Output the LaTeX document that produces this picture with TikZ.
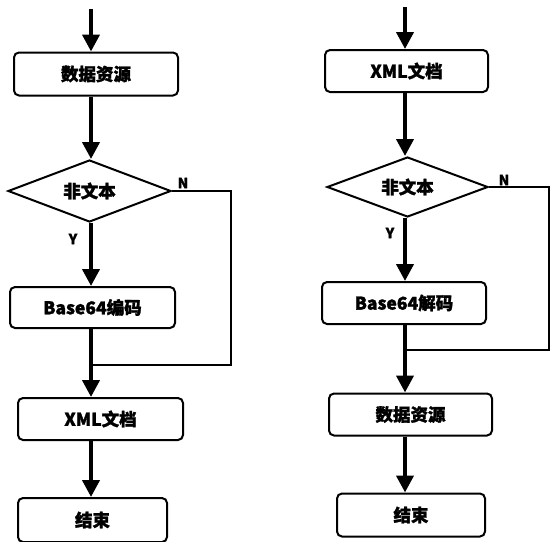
\documentclass[tikz,border=0pt]{standalone}
\usepackage{fontspec}
\newfontfamily\cjk{Noto Sans CJK SC}[BoldFeatures={FakeBold=1.5}]
\usetikzlibrary{shapes.geometric,arrows.meta}
\tikzset{
  procbox/.style={draw, line width=2pt, rounded corners=5pt, fill=white, inner sep=0pt, font=\cjk\bfseries\fontsize{17.5}{17.5}\selectfont},
  decbox/.style={draw, line width=2pt, diamond, fill=white, inner sep=0pt, font=\cjk\bfseries\fontsize{17.5}{17.5}\selectfont},
  flow/.style={line width=4pt, -{Triangle[length=17pt,width=17pt]}},
  loopline/.style={line width=1.6pt},
  lbl/.style={font=\cjk\bfseries\fontsize{14}{14}\selectfont, inner sep=0pt}
}
\begin{document}
\begin{tikzpicture}[x=1pt,y=-1pt]
\useasboundingbox (0,0) rectangle (551,541);
\fill[white] (0,0) rectangle (551,541);
% ---------- left chart ----------
\coordinate (colL) at (91,0);
\coordinate (sL) at (91,9);
\node[procbox, minimum width=164pt, minimum height=43pt] (L1) at (96,74) {数据资源};
\node[decbox, minimum width=163pt, minimum height=62pt, aspect=2.6] (L2) at (89.5,191) {非文本};
\node[procbox, minimum width=165pt, minimum height=41pt] (L3) at (92.5,307.5) {Base64编码};
\node[procbox, minimum width=165pt, minimum height=42pt] (L4) at (100.5,419) {XML文档};
\node[procbox, minimum width=149pt, minimum height=44pt] (L5) at (92.5,520) {结束};
\coordinate (Lc1) at (231,191);
\coordinate (Lc2) at (231,365);
\coordinate (Lj) at (91,365);
\draw[flow] (sL) -- (L1.north -| colL);
\draw[flow] (L1.south -| colL) -- (L2.north -| colL);
\draw[flow] (L2.south -| colL) -- (L3.north -| colL);
\draw[flow] (L3.south -| colL) -- (L4.north -| colL);
\draw[flow] (L4.south -| colL) -- (L5.north -| colL);
\draw[loopline] (L2.east) -- (Lc1) -- (Lc2) -- (Lj);
\node[lbl] (LN) at (183,183) {N};
\node[lbl] (LY) at (73,239) {Y};
% ---------- right chart ----------
\coordinate (colR) at (405,0);
\coordinate (sR) at (405,7);
\node[procbox, minimum width=163pt, minimum height=42pt] (R1) at (406.5,71) {XML文档};
\node[decbox, minimum width=161pt, minimum height=60pt, aspect=2.7] (R2) at (407.5,187) {非文本};
\node[procbox, minimum width=164pt, minimum height=42pt] (R3) at (404,303) {Base64解码};
\node[procbox, minimum width=163pt, minimum height=42pt] (R4) at (410.5,414.5) {数据资源};
\node[procbox, minimum width=148pt, minimum height=43pt] (R5) at (411,515) {结束};
\coordinate (Rc1) at (549,187);
\coordinate (Rc2) at (549,350);
\coordinate (Rj) at (405,350);
\draw[flow] (sR) -- (R1.north -| colR);
\draw[flow] (R1.south -| colR) -- (R2.north -| colR);
\draw[flow] (R2.south -| colR) -- (R3.north -| colR);
\draw[flow] (R3.south -| colR) -- (R4.north -| colR);
\draw[flow] (R4.south -| colR) -- (R5.north -| colR);
\draw[loopline] (R2.east) -- (Rc1) -- (Rc2) -- (Rj);
\node[lbl] (RN) at (504,180) {N};
\node[lbl] (RY) at (390,233) {Y};
\end{tikzpicture}
\end{document}
